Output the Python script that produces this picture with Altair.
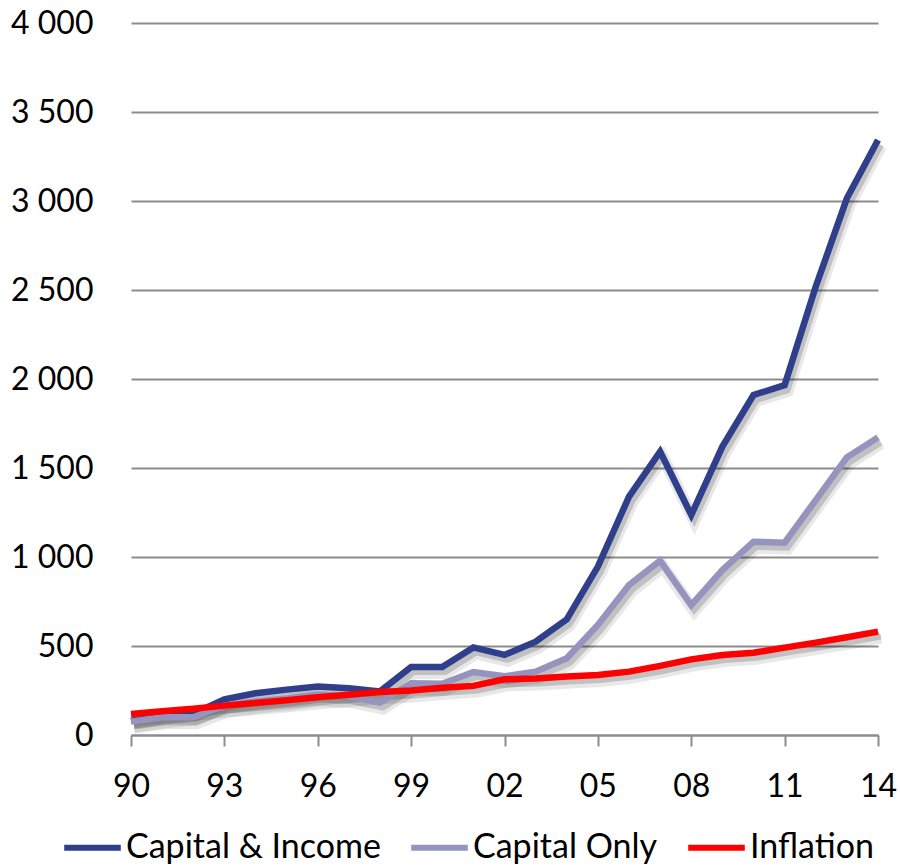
import altair as alt
import pandas as pd

# Index values, 1990-2014
years = list(range(1990, 2015))
capital_income = [80, 105, 120, 200, 235, 255, 272, 262, 245, 382, 382, 492, 450,
                  524, 650, 946, 1339, 1592, 1236, 1620, 1910, 1966, 2519, 3015, 3343]
capital_only = [75, 100, 100, 165, 188, 205, 228, 218, 182, 290, 288, 354, 330,
                356, 431, 618, 843, 979, 730, 927, 1086, 1080, 1320, 1560, 1672]
inflation = [118, 133, 148, 165, 180, 195, 212, 226, 242, 250, 266, 276, 313,
             318, 328, 337, 356, 388, 425, 449, 462, 491, 519, 549, 581]

series_names = ["Capital & Income", "Capital Only", "Inflation"]
series_colors = ["#2f3f8b", "#9494bf", "#ff0000"]

rows = []
for name, vals in zip(series_names, [capital_income, capital_only, inflation]):
    for yr, v in zip(years, vals):
        rows.append({"year": yr, "value": v, "series": name})
df = pd.DataFrame(rows)

FONT = "Lato"
GRID = "#8c8c8c"

x_enc = alt.X(
    "year:Q",
    scale=alt.Scale(domain=[1990, 2014], nice=False, zero=False),
    axis=alt.Axis(
        values=list(range(1990, 2015, 3)),
        labelExpr="substring(toString(datum.value), 2)",
        grid=False, domainColor=GRID, domainWidth=2,
        tickColor=GRID, tickWidth=2, tickSize=11,
        labelFont=FONT, labelFontSize=32, labelColor="black",
        labelPadding=25, labelFlush=False, labelOverlap=False, labelBound=False,
        title=None,
    ),
)
y_enc = alt.Y(
    "value:Q",
    scale=alt.Scale(domain=[0, 4000], nice=False),
    axis=alt.Axis(
        values=list(range(0, 4001, 500)),
        labelExpr="replace(format(datum.value, ','), ',', ' ')",
        domain=False, ticks=False,
        gridColor=GRID, gridWidth=2,
        labelFont=FONT, labelFontSize=32, labelColor="black",
        labelPadding=38, title=None,
    ),
)

color_enc = alt.Color(
    "series:N",
    scale=alt.Scale(domain=series_names, range=series_colors),
    legend=alt.Legend(
        orient="none", legendX=-70, legendY=793, direction="horizontal",
        title=None, symbolType="stroke", symbolStrokeWidth=6, symbolSize=3200,
        labelFont=FONT, labelFontSize=34, labelColor="black", labelLimit=600,
        labelOffset=2, columnPadding=18,
    ),
)

base = alt.Chart(df)

# soft drop shadow under every line
shadow_wide = base.mark_line(color="#000000", opacity=0.09, strokeWidth=12,
                             xOffset=3, yOffset=6).encode(x=x_enc, y=y_enc, detail="series:N")
shadow_core = base.mark_line(color="#000000", opacity=0.17, strokeWidth=6,
                             xOffset=3, yOffset=5).encode(x=x_enc, y=y_enc, detail="series:N")

lines = [
    base.transform_filter(alt.datum.series == name)
        .mark_line(strokeWidth=6.5)
        .encode(x=x_enc, y=y_enc, color=color_enc)
    for name in series_names
]

chart = alt.layer(shadow_wide, shadow_core, *lines).properties(
    width=747, height=712,
    padding={"left": 131, "top": 23, "right": 22, "bottom": 130},
    autosize=alt.AutoSizeParams(type="none"),
    background="white",
).configure_view(stroke=None)

chart.save("out.html", embed_options={"renderer": "svg", "actions": False})
